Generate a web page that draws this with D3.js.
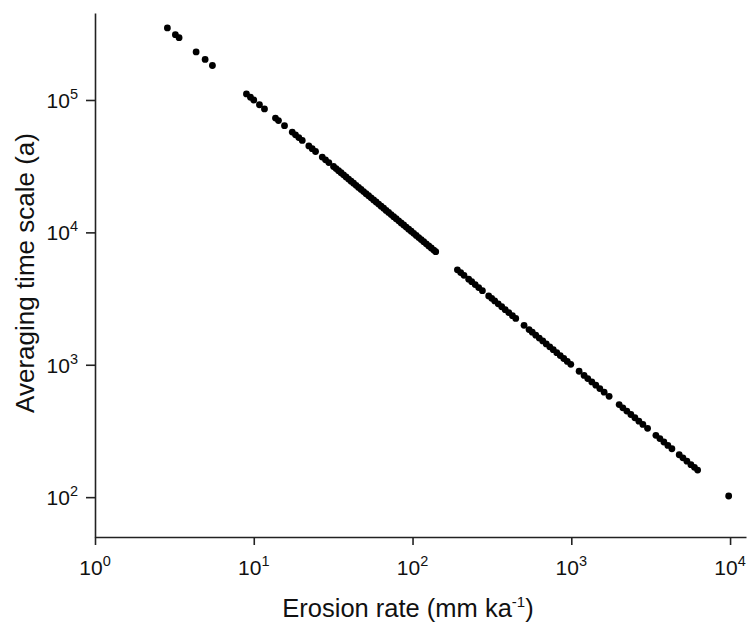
<!DOCTYPE html>
<html><head><meta charset="utf-8">
<script src="https://cdn.jsdelivr.net/npm/d3@7"></script>
<style>
body{margin:0;background:#fff}
svg{display:block}
text{font-family:"Liberation Sans",Arial,sans-serif;fill:#111}
</style>
</head><body>
<svg id="chart" width="747" height="622"></svg>
<script>
// Erosion rate (mm/ka)
const erosionRate = [
  2.857, 3.209, 3.385, 4.334, 4.939, 5.49,
  8.995, 9.533, 10.0, 10.86, 11.68, 13.70, 14.31, 15.62, 17.47, 18.32, 19.22, 20.20,
  22.23, 23.34, 24.49, 27.00, 28.32, 29.71,
  31.80, 32.98, 34.20, 35.46, 36.77, 38.13, 39.54, 41.01, 42.52, 44.10, 45.73, 47.42,
  49.17, 50.99, 52.88, 54.84, 56.87, 58.97, 61.15, 63.41, 65.76, 68.19, 70.72, 73.33,
  76.05, 78.86, 81.78, 84.80, 87.94, 91.20, 94.57, 98.07, 101.7, 105.5, 109.4, 113.4,
  117.6, 122.0, 126.5, 131.2, 136.0, 140.0,
  191.7, 201.1, 210.9, 225.8, 235.9, 248.1, 261.1, 275.5, 301.8, 315.2, 329.4, 346.5,
  364.6, 383.6, 403.6, 426.0, 446.9, 504.0, 541.9, 567.7, 597.3, 628.3, 661.1, 695.6,
  731.8, 770.0, 810.1, 852.3, 896.7, 943.5, 992.7, 1120, 1204, 1270, 1347, 1427,
  1512, 1610, 1731, 2002, 2112, 2238, 2373, 2515, 2665, 2824, 3023, 3411, 3614, 3830,
  4059, 4302, 4783, 5047, 5348, 5669, 5965, 6248, 9800
];
// Averaging time scale (a)
const timeScale = [
  350000, 311600, 295400, 230700, 202500, 182100,
  111200, 104900, 100000, 92080, 85620, 72990, 69880, 64020, 57240, 54590, 52030, 49500,
  44980, 42840, 40830, 37040, 35310, 33660,
  31450, 30320, 29240, 28200, 27200, 26230, 25290, 24380, 23520, 22680, 21870, 21090,
  20340, 19610, 18910, 18240, 17580, 16960, 16350, 15770, 15210, 14660, 14140, 13640,
  13150, 12680, 12230, 11790, 11370, 10960, 10570, 10200, 9833, 9479, 9141, 8818,
  8503, 8197, 7905, 7622, 7353, 7143,
  5217, 4973, 4741, 4429, 4239, 4031, 3830, 3630, 3313, 3173, 3036, 2886,
  2743, 2607, 2478, 2347, 2238, 1984, 1845, 1762, 1674, 1592, 1513, 1438,
  1367, 1299, 1234, 1173, 1115, 1060, 1007, 893, 831, 787, 742, 701,
  661, 621, 578, 500, 473, 447, 421, 398, 375, 354, 331, 293, 277, 261,
  246, 232, 209, 198, 187, 176, 168, 160, 102
];
const xTickValues = [1, 10, 100, 1000, 10000];
const xTickExponents = ["0", "1", "2", "3", "4"];
const yTickValues = [100, 1000, 10000, 100000];
const yTickExponents = ["2", "3", "4", "5"];
const xTitleMain = "Erosion rate (mm ka";
const xTitleSup = "-1";
const xTitleEnd = ")";
const yTitle = "Averaging time scale (a)";

const svg = d3.select("#chart");
const x = d3.scaleLog().domain([1, 12600]).range([95, 746]);
const y = d3.scaleLog().domain([50, 454000]).range([537, 13]);

const axisColor = "#222";

const gx = svg.append("g").attr("transform", "translate(0,537)")
  .call(d3.axisBottom(x).tickValues(xTickValues).tickSize(8).tickSizeOuter(0).tickFormat(() => ""));
const gy = svg.append("g").attr("transform", "translate(95,0)")
  .call(d3.axisLeft(y).tickValues(yTickValues).tickSize(9).tickSizeOuter(0).tickFormat(() => ""));
[gx, gy].forEach(g => {
  g.select(".domain").attr("stroke", axisColor).attr("stroke-width", 1.6);
  g.selectAll(".tick line").attr("stroke", axisColor).attr("stroke-width", 1.6);
});

// x tick labels
xTickValues.forEach((v, i) => {
  const t = svg.append("text").attr("x", x(v)).attr("y", 575)
    .attr("text-anchor", "middle").style("font-size", "21px");
  t.append("tspan").text("10");
  t.append("tspan").attr("dy", -9).style("font-size", "14.5px").text(xTickExponents[i]);
});
// y tick labels
yTickValues.forEach((v, i) => {
  const t = svg.append("text").attr("x", 78).attr("y", y(v) + 8)
    .attr("text-anchor", "end").style("font-size", "21px");
  t.append("tspan").text("10");
  t.append("tspan").attr("dy", -9).style("font-size", "14.5px").text(yTickExponents[i]);
});

// axis titles
const xt = svg.append("text").attr("x", 408).attr("y", 617)
  .attr("text-anchor", "middle").style("font-size", "25.5px");
xt.append("tspan").text(xTitleMain);
xt.append("tspan").attr("dy", -10).style("font-size", "15px").text(xTitleSup);
xt.append("tspan").attr("dy", 10).text(xTitleEnd);

svg.append("text").attr("transform", "translate(34,273) rotate(-90)")
  .attr("text-anchor", "middle").style("font-size", "26px").text(yTitle);

// points
svg.append("g").selectAll("circle")
  .data(erosionRate.map((r, i) => ({r, t: timeScale[i]})))
  .join("circle")
  .attr("cx", d => x(d.r))
  .attr("cy", d => y(d.t))
  .attr("r", 3.4)
  .attr("fill", "#000");
</script>
</body></html>
